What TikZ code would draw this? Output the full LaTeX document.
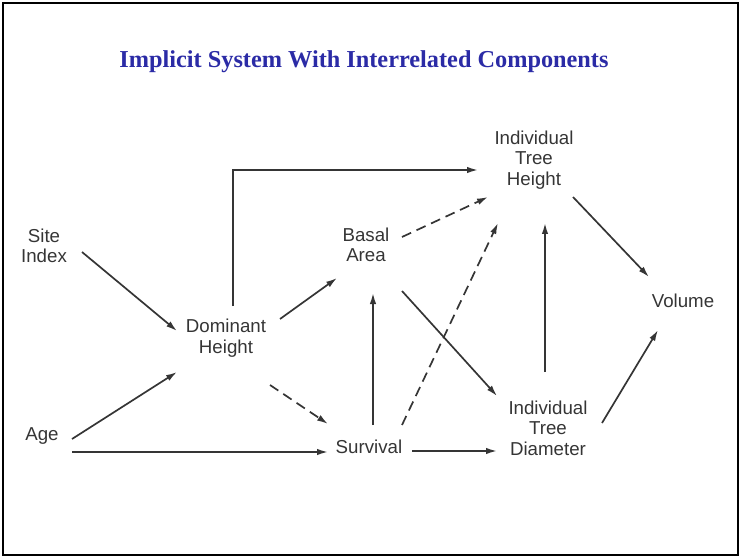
\documentclass[tikz,border=0pt]{standalone}
\usepackage{fontspec}
\setmainfont{Liberation Serif}
\setsansfont{Liberation Sans}
\usepackage{xcolor}
\usetikzlibrary{arrows.meta}
\definecolor{TBlue}{HTML}{2B2BA6}
\definecolor{TInk}{HTML}{353535}

\begin{document}
\begin{tikzpicture}[
  x=1pt,y=-1pt,
  lbl/.style={inner sep=0pt,align=center,text=TInk,
    font=\sffamily\fontsize{18.7}{20.5}\selectfont},
  ttl/.style={inner sep=0pt,text=TBlue,
    font=\bfseries\fontsize{24.3}{28}\selectfont},
  a/.style={-{Latex[length=11pt,width=6.5pt]},line width=1.7pt,color=TInk},
  ad/.style={a,dash pattern=on 10pt off 6pt}
]
  \useasboundingbox (0,0) rectangle (742,556);
  \draw[line width=2.5pt] (3,3) rectangle (738,555);
  \node[ttl,anchor=base] (title) at (364,68) {Implicit System With Interrelated Components};

  \node[lbl] (site) at (44,246) {Site\\Index};
  \node[lbl] (age) at (42,436) {Age};
  \node[lbl] (dom) at (226,338) {Dominant\\Height};
  \node[lbl] (basal) at (366,245) {Basal\\Area};
  \node[lbl] (surv) at (369,447) {Survival};
  \node[lbl] (ith) at (534,160) {Individual\\Tree\\Height};
  \node[lbl] (itd) at (548,428) {Individual\\Tree\\Diameter};
  \node[lbl] (vol) at (683,301) {Volume};

  % solid links
  \foreach \f/\fx/\fy/\t/\tx/\ty in {site/38/6/dom/-49/-7, age/30/3/dom/-49/34,
      age/30/16/surv/-41/5, dom/54/-19/basal/-29/33, surv/4/-22/basal/7/48,
      basal/36/46/itd/-51/-32, surv/43/4/itd/-51/23, itd/-3/-56/ith/11/63,
      ith/39/37/vol/-34/-24, itd/54/-5/vol/-25/29}
    {\draw[a] ([shift={(\fx,\fy)}]\f.center) -- ([shift={(\tx,\ty)}]\t.center);}
  % dashed links
  \foreach \f/\fx/\fy/\t/\tx/\ty in {dom/44/47/surv/-41/-23,
      basal/36/-8/ith/-46/37, surv/33/-22/ith/-36/63}
    {\draw[ad] ([shift={(\fx,\fy)}]\f.center) -- ([shift={(\tx,\ty)}]\t.center);}
  \draw[a] ([shift={(7,-32)}]dom.center) |- ([shift={(-56,10)}]ith.center);
\end{tikzpicture}
\end{document}
